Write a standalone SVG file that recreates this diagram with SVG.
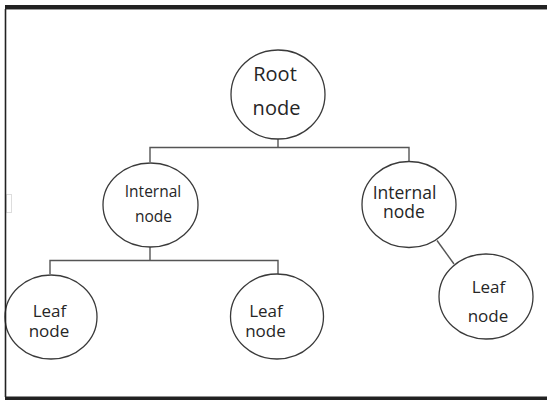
<svg xmlns="http://www.w3.org/2000/svg" width="547" height="400" viewBox="0 0 547 400">
<style>
.node ellipse{fill:#fff;stroke:#3a3a3a;stroke-width:1.3}
.node text{font-family:"Open Sans","Noto Sans",sans-serif;fill:#262626;text-anchor:middle}
#connectors line,#connectors polyline{stroke:#555;stroke-width:1.4;fill:none}
</style>
<rect x="0" y="0" width="547" height="400" fill="#fff"/>
<rect x="5" y="5" width="542" height="4" fill="#222"/>
<line x1="5" y1="9.5" x2="547" y2="9.5" stroke="#999" stroke-width="1"/>
<rect x="5" y="396.5" width="542" height="3.5" fill="#222"/>
<rect x="6.5" y="194.5" width="5" height="18" fill="none" stroke="#ddd" stroke-width="1"/>
<g id="connectors">
<polyline points="278,139 278,147.5"/>
<polyline points="150,162 150,147.5 409,147.5 409,161"/>
<polyline points="150,247 150,260.5"/>
<polyline points="50,274 50,260.5 278,260.5 278,274"/>
<line x1="437" y1="240.5" x2="454" y2="264"/>
</g>
<g id="root" class="node">
<ellipse cx="278" cy="94.5" rx="47" ry="44.5"/>
<text x="275" y="80.5" font-size="20">Root</text>
<text x="276.5" y="115" font-size="20">node</text>
</g>
<g id="internal-left" class="node">
<ellipse cx="150.5" cy="205" rx="47.5" ry="42"/>
<text x="153" y="196.5" font-size="15.5">Internal</text>
<text x="153.5" y="221.5" font-size="15.5">node</text>
</g>
<g id="internal-right" class="node">
<ellipse cx="409" cy="204.5" rx="47" ry="43"/>
<text x="404.5" y="199" font-size="17.5">Internal</text>
<text x="404" y="218" font-size="17.5">node</text>
</g>
<g id="leaf-left" class="node">
<ellipse cx="51" cy="317" rx="46" ry="42"/>
<text x="49.5" y="316.5" font-size="17">Leaf</text>
<text x="49" y="336.5" font-size="17">node</text>
</g>
<g id="leaf-middle" class="node">
<ellipse cx="277" cy="316.5" rx="46.5" ry="42.5"/>
<text x="266" y="316.5" font-size="17">Leaf</text>
<text x="265.5" y="336.5" font-size="17">node</text>
</g>
<g id="leaf-right" class="node">
<ellipse cx="486" cy="296.5" rx="47" ry="42.5"/>
<text x="488.5" y="293" font-size="17">Leaf</text>
<text x="488" y="321.5" font-size="17">node</text>
</g>
<line x1="5.5" y1="9" x2="5.5" y2="397" stroke="#222" stroke-width="1.6"/>
</svg>
